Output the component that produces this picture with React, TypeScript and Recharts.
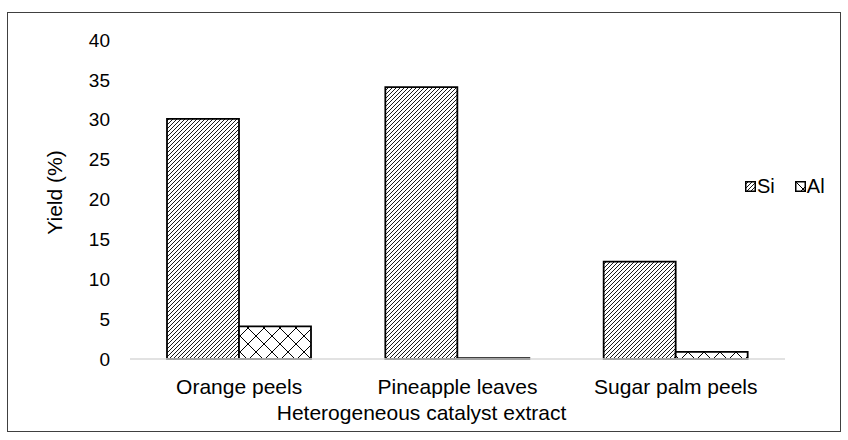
import { BarChart, Bar, XAxis, YAxis, Legend } from 'recharts';

document.body.style.margin = '0';

const categories = ['Orange peels', 'Pineapple leaves', 'Sugar palm peels'];
const siYield = [30.1, 34.1, 12.2];
const alYield = [4.1, 0.1, 0.9];
const yTicks = [0, 5, 10, 15, 20, 25, 30, 35, 40];

const data = categories.map((name, i) => ({ name, Si: siYield[i], Al: alYield[i] }));

const FONT = '"Liberation Sans", Arial, sans-serif';

function LegendContent() {
  const items = [
    { label: 'Si', fill: 'url(#hatchSi)' },
    { label: 'Al', fill: 'url(#hatchAl)' },
  ];
  return (
    <div style={{ display: 'flex', alignItems: 'center', fontFamily: FONT, fontSize: 20, color: '#000', lineHeight: '20px' }}>
      {items.map((it) => (
        <span key={it.label} style={{ display: 'flex', alignItems: 'center', marginRight: 20 }}>
          <svg width={11} height={11} style={{ marginRight: 1 }}>
            <rect x={0.75} y={0.75} width={9.5} height={9.5} fill={it.fill} stroke="#000" strokeWidth={1.5} />
          </svg>
          {it.label}
        </span>
      ))}
    </div>
  );
}

// axis titles, placed from the axis viewBox
function XTitle(props: any) {
  const { viewBox } = props;
  const cx = viewBox.x + viewBox.width / 2 - 36;
  const y = viewBox.y + viewBox.height - 9;
  return (
    <text x={cx} y={y} textAnchor="middle" fontSize={21} fontFamily={FONT} fill="#000">
      Heterogeneous catalyst extract
    </text>
  );
}

function YTitle(props: any) {
  const { viewBox } = props;
  const x = viewBox.x + 4;
  const y = viewBox.y + viewBox.height / 2 - 7;
  return (
    <text
      x={x}
      y={y}
      transform={`rotate(-90 ${x} ${y})`}
      textAnchor="middle"
      dominantBaseline="central"
      fontSize={21}
      fontFamily={FONT}
      fill="#000"
    >
      Yield (%)
    </text>
  );
}

export default function App() {
  return (
    <div style={{ position: 'relative', width: 848, height: 440, background: '#fff' }}>
      <div
        style={{
          position: 'absolute',
          left: 7,
          top: 12,
          width: 832,
          height: 418,
          border: '1px solid #404040',
        }}
      />
      <div style={{ position: 'absolute', left: 0, top: 0 }}>
        <BarChart
          width={848}
          height={440}
          data={data}
          margin={{ top: 40, right: 63, bottom: 11, left: 50 }}
          barGap={0}
        >
          <defs>
            <pattern id="hatchSi" patternUnits="userSpaceOnUse" width={4} height={4}>
              <rect width={4} height={4} fill="#fff" />
              <path d="M-1,1 l2,-2 M0,4 l4,-4 M3,5 l2,-2" stroke="#000" strokeWidth={0.9} />
            </pattern>
            <pattern id="hatchAl" patternUnits="userSpaceOnUse" width={16} height={16}>
              <rect width={16} height={16} fill="#fff" />
              <path d="M0,0 L16,16 M16,0 L0,16" stroke="#000" strokeWidth={1} />
            </pattern>
          </defs>
          <XAxis
            dataKey="name"
            height={70}
            axisLine={{ stroke: '#d9d9d9', strokeWidth: 1.5 }}
            tickLine={false}
            tickSize={0}
            tickMargin={20}
            tick={{ fontSize: 21, fill: '#000', fontFamily: FONT }}
            label={<XTitle />}
          />
          <YAxis
            width={80}
            domain={[0, 40]}
            ticks={yTicks}
            axisLine={false}
            tickLine={false}
            tickSize={0}
            tickMargin={20}
            tick={{ fontSize: 19, fill: '#000', fontFamily: FONT }}
            label={<YTitle />}
          />
          <Legend
            layout="vertical"
            align="center"
            verticalAlign="middle"
            content={<LegendContent />}
            wrapperStyle={{ position: 'absolute', left: 745, top: 176, width: 110, height: 22 }}
          />
          <Bar dataKey="Si" name="Si" barSize={72} fill="url(#hatchSi)" stroke="#000" strokeWidth={1.8} isAnimationActive={false} />
          <Bar dataKey="Al" name="Al" barSize={72} fill="url(#hatchAl)" stroke="#000" strokeWidth={1.8} isAnimationActive={false} />
        </BarChart>
      </div>
    </div>
  );
}
